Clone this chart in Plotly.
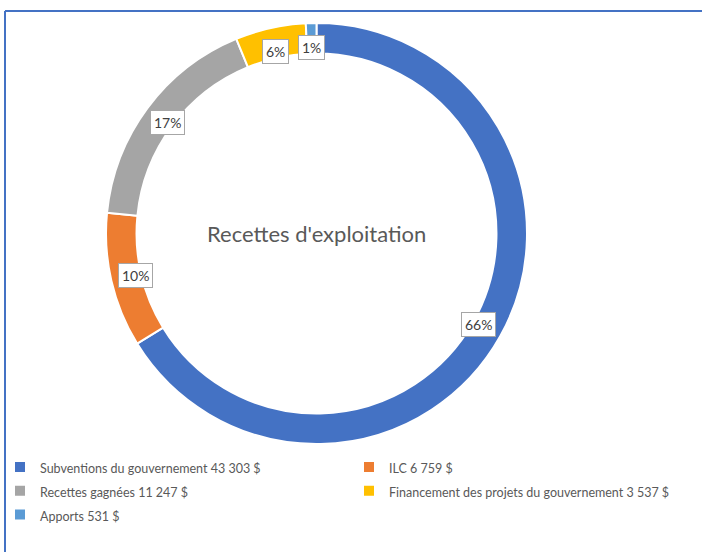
import math
import plotly.graph_objects as go

labels = ["Subventions du gouvernement 43 303 $", "ILC 6 759 $", "Recettes gagnées 11 247 $",
          "Financement des projets du gouvernement 3 537 $", "Apports 531 $"]
values = [43303, 6759, 11247, 3537, 531]
pct_labels = ["66%", "10%", "17%", "6%", "1%"]
colors = ["#4472C4", "#ED7D31", "#A5A5A5", "#FFC000", "#5B9BD5"]
center_title = "Recettes d'exploitation"

W, H = 702, 552
HOLE = 0.855
FONT = "Lato, Liberation Sans, sans-serif"
dom_x = [106 / W, 527 / W]
dom_y = [1 - 444 / H, 1 - 23 / H]

legend_labels = ['<span style="font-size:12.5px">%s</span>' % s for s in labels]

fig = go.Figure()
fig.add_trace(go.Pie(
    labels=legend_labels, values=values, hole=HOLE, sort=False, direction="clockwise",
    rotation=0, marker=dict(colors=colors, line=dict(color="white", width=2)),
    textinfo="none", hoverinfo="label+percent",
    domain=dict(x=dom_x, y=dom_y),
))

# percent labels in boxes, placed near the inner edge of the ring from cumulative data angles
cx = (dom_x[0] + dom_x[1]) / 2
cy = (dom_y[0] + dom_y[1]) / 2
r_out = min((dom_x[1] - dom_x[0]) * W, (dom_y[1] - dom_y[0]) * H) / 2
r_lab = r_out * (HOLE + (1 - HOLE) * 0.2)
total = sum(values)
cum = 0
annotations = []
for v, t in zip(values, pct_labels):
    mid = (cum + v / 2) / total * 2 * math.pi
    cum += v
    ax = cx + r_lab * math.sin(mid) / W
    ay = cy + r_lab * math.cos(mid) / H
    annotations.append(dict(x=ax, y=ay, xref="paper", yref="paper", text=t, showarrow=False,
                            xanchor="center", yanchor="middle",
                            font=dict(family=FONT, size=14, color="#404040"),
                            bgcolor="white", bordercolor="#A6A6A6", borderwidth=1, borderpad=3))
annotations.append(dict(x=cx, y=cy, xref="paper", yref="paper", text=center_title, showarrow=False,
                        xanchor="center", yanchor="middle",
                        font=dict(family=FONT, size=22, color="#595959")))

fig.update_layout(
    width=W, height=H, margin=dict(l=0, r=0, t=0, b=0, autoexpand=False),
    paper_bgcolor="white", plot_bgcolor="white",
    annotations=annotations,
    showlegend=True,
    legend=dict(orientation="h", x=0, xanchor="left", y=1 - 450 / H, yanchor="top",
                entrywidth=304, entrywidthmode="pixels", traceorder="normal",
                font=dict(family=FONT, size=16, color="#595959"),
                bgcolor="rgba(0,0,0,0)"),
    shapes=[
        dict(type="line", xref="paper", yref="paper", x0=5 / W, x1=1, y0=1 - 11 / H, y1=1 - 11 / H,
             line=dict(color="#4472C4", width=2)),
        dict(type="line", xref="paper", yref="paper", x0=5 / W, x1=5 / W, y0=0, y1=1 - 11 / H,
             line=dict(color="#4472C4", width=2)),
    ],
)

fig.write_html("out.html", config={"displayModeBar": False},
               post_script="document.body.style.margin='0';document.body.style.overflow='hidden';")
